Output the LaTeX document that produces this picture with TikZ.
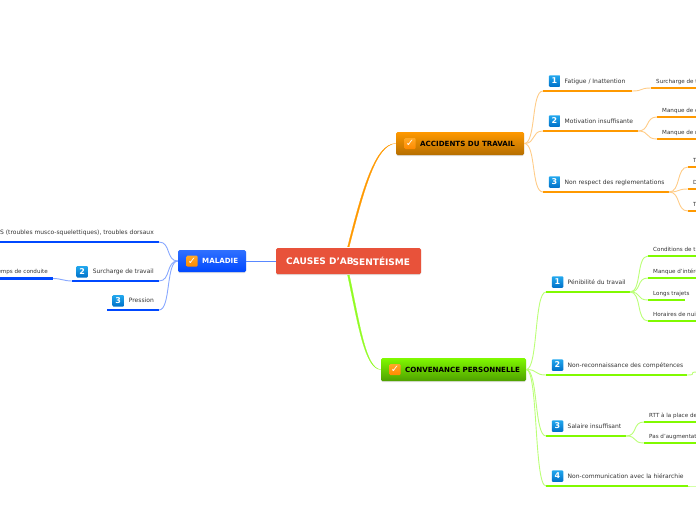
\documentclass[tikz,border=0pt]{standalone}
\usepackage{fontspec}
\setmainfont{DejaVu Sans}
\usetikzlibrary{calc,shadows}
\definecolor{Brick}{HTML}{E8523A}
\definecolor{Amber}{HTML}{FF9900}
\definecolor{AmberDark}{HTML}{B56E00}
\definecolor{AmberPale}{HTML}{FFCC88}
\definecolor{Royal}{HTML}{0048FF}
\definecolor{RoyalTop}{HTML}{2F70FF}
\definecolor{RoyalPale}{HTML}{88A8FF}
\definecolor{Lime}{HTML}{80FA00}
\definecolor{LimeDark}{HTML}{4FA000}
\definecolor{LimePale}{HTML}{BBFF77}
\definecolor{Ink}{HTML}{333333}
\definecolor{BadgeTop}{HTML}{22A8EE}
\definecolor{BadgeLow}{HTML}{0070C8}
\tikzset{
  mainbox/.style={rounded corners=1.5pt,inner sep=0pt,drop shadow={opacity=.25,shadow xshift=0pt,shadow yshift=-1pt}},
  tickbadge/.style={rounded corners=1pt,minimum size=11pt,inner sep=0pt,top color=Amber!85!white,bottom color=Amber!90!red,
    text=white,font=\fontsize{10}{10}\selectfont\bfseries},
  numbadge/.style={rounded corners=1pt,minimum size=11.5pt,inner sep=0pt,top color=BadgeTop,bottom color=BadgeLow,
    text=white,font=\fontsize{8}{8}\selectfont\bfseries},
  rowtext/.style={inner sep=0pt,text height=4.6pt,text depth=1.2pt,text=Ink,font=\fontsize{6}{7}\selectfont},
  subtext/.style={rowtext,font=\fontsize{5.6}{7}\selectfont},
  headtext/.style={inner sep=0pt,text height=5.2pt,text depth=0pt,font=\fontsize{7.1}{8}\selectfont\bfseries},
  titletext/.style={inner sep=0pt,text height=6.6pt,text depth=0pt,text=white,font=\fontsize{9}{10}\selectfont\bfseries},
  linkr/.style={out=0,in=180,out distance=12pt,in distance=12pt},
  linkl/.style={out=180,in=0,out distance=12pt,in distance=12pt},
  branch/.style={line width=.9pt},
}
% numbered row going right
\newcommand{\toprow}[7]{%
  \coordinate (#1-l) at (#3,#5);
  \coordinate (#1-r) at (#4,#5);
  \draw[#7,line width=2.5pt] (#1-l) -- (#1-r);
  \node[numbadge] (#1-badge) at (#3+11.5,#5-10) {#2};
  \node[rowtext,anchor=west] (#1-text) at (#3+21.5,#5-9.2) {#6};
}
% numbered row going left
\newcommand{\leftrow}[7]{%
  \coordinate (#1-l) at (#3,#5);
  \coordinate (#1-r) at (#4,#5);
  \draw[#7,line width=2.5pt] (#1-l) -- (#1-r);
  \node[rowtext,anchor=east] (#1-text) at (#4-5,#5-9.2) {#6};
  \node[numbadge,anchor=east] (#1-badge) at (#1-text.west) [xshift=-4.5pt] {#2};
}
% plain row, cut by the page
\newcommand{\subrow}[6]{%
  \coordinate (#1-l) at (#2,#4);
  \coordinate (#1-r) at (#3,#4);
  \draw[#6,line width=2.5pt] (#1-l) -- (#1-r);
  \node[subtext,anchor=west] (#1-text) at (#2+5,#4-6.3) {#5};
}
\begin{document}
\begin{tikzpicture}[x=1pt,y=-1pt]
  \useasboundingbox (0,0) rectangle (696,520);
  \clip (0,0) rectangle (696,520);

  % main nodes
  \node[mainbox,fill=Brick,minimum width=145pt,minimum height=26pt] (main) at (348.5,261) {};
  \node[titletext,anchor=west] (mainA) at (286,261) {CAUSES D’AB};
  \node[titletext,anchor=west] (mainB) at (352.5,262) {SENTÉISME};

  \node[mainbox,top color=RoyalTop,bottom color=Royal,minimum width=68pt,minimum height=22pt] (mal) at (212,261) {};
  \node[tickbadge] (malTick) at (192,261) {✓};
  \node[headtext,text=white,anchor=west] (malText) at (202,261) {MALADIE};

  \node[mainbox,top color=Amber,bottom color=AmberDark,minimum width=128pt,minimum height=23pt] (acc) at (460,143.5) {};
  \node[tickbadge] (accTick) at (410,143.5) {✓};
  \node[headtext,anchor=west] (accText) at (420,143.5) {ACCIDENTS DU TRAVAIL};

  \node[mainbox,top color=Lime,bottom color=LimeDark,minimum width=145pt,minimum height=23pt] (con) at (453.5,369.5) {};
  \node[tickbadge] (conTick) at (395,369.5) {✓};
  \node[headtext,anchor=west] (conText) at (405,369.5) {CONVENANCE PERSONNELLE};

  % links from the centre
  \draw[Royal!65!white,line width=.8pt] (main.west) -- (mal.east);
  \draw[Amber,line width=.2pt,fill=Amber] ($(main.north)+(-.9,-1)$) .. controls (362,190) and (375,143.5) .. (acc.west)
    .. controls (376,144) and (364,190) .. ($(main.north)+(.7,-1)$) -- cycle;
  \draw[Lime!70!LimePale,line width=.2pt,fill=Lime!70!LimePale] ($(main.south)+(-.9,1)$) .. controls (358,325) and (365,369.5) .. (con.west)
    .. controls (366,369) and (360,325) .. ($(main.south)+(.9,1)$) -- cycle;

  % maladie
  \coordinate (m1-l) at (0,242);
  \coordinate (m1-r) at (159,242);
  \draw[Royal,line width=2.5pt] (m1-l) -- (m1-r);
  \node[rowtext,anchor=east] (m1-text) at (154,232.8) {S (troubles musco-squelettiques), troubles dorsaux};
  \leftrow{m2}{2}{72}{159}{281}{Surcharge de travail}{Royal}
  \leftrow{m3}{3}{107}{159}{310}{Pression}{Royal}
  \coordinate (m2a-r) at (53,278.5);
  \coordinate (m2a-l) at (0,278.5);
  \draw[Royal,line width=2.5pt] (m2a-l) -- (m2a-r);
  \node[subtext,anchor=east] (m2a-text) at (48,271.7) {emps de conduite};
  \foreach \r in {m1,m2,m3}{
    \draw[RoyalPale,branch] (mal.west) to[linkl] (\r-r);
  }
  \draw[RoyalPale,branch] (m2-l) to[out=180,in=0,out distance=8pt,in distance=8pt] (m2a-r);

  % accidents
  \toprow{a1}{1}{543}{632}{91}{Fatigue / Inattention}{Amber}
  \toprow{a2}{2}{543}{638}{131}{Motivation insuffisante}{Amber}
  \toprow{a3}{3}{543}{669}{192}{Non respect des reglementations}{Amber}
  \subrow{a1a}{651}{700}{88}{Surcharge de t}{Amber}
  \subrow{a2a}{657}{700}{117}{Manque de c}{Amber}
  \subrow{a2b}{657}{700}{139}{Manque de r}{Amber}
  \subrow{a3a}{688}{700}{167}{T}{Amber}
  \subrow{a3b}{688}{700}{189}{D}{Amber}
  \subrow{a3c}{688}{700}{211}{T}{Amber}
  \foreach \r in {a1,a2,a3}{
    \draw[AmberPale,branch] (acc.east) to[linkr] (\r-l);
  }
  \foreach \a/\b in {a1/a1a,a2/a2a,a2/a2b,a3/a3a,a3/a3b,a3/a3c}{
    \draw[AmberPale,branch] (\a-r) to[linkr] (\b-l);
  }

  % convenance
  \toprow{c1}{1}{546}{630}{292}{Pénibilité du travail}{Lime}
  \toprow{c2}{2}{546}{687}{375}{Non-reconnaissance des compétences}{Lime}
  \toprow{c3}{3}{546}{626}{436}{Salaire insuffisant}{Lime}
  \toprow{c4}{4}{546}{688}{486}{Non-communication avec la hiérarchie}{Lime}
  \subrow{c1a}{648}{700}{256}{Conditions de tr}{Lime}
  \subrow{c1b}{648}{700}{278}{Manque d'intérê}{Lime}
  \subrow{c1c}{648}{685}{300}{Longs trajets}{Lime}
  \subrow{c1d}{648}{700}{321}{Horaires de nuit}{Lime}
  \subrow{c3a}{644}{700}{422}{RTT à la place de}{Lime}
  \subrow{c3b}{644}{700}{443}{Pas d'augmentati}{Lime}
  \coordinate (c2end) at (698,372);
  \coordinate (c4end) at (698,486);
  \foreach \r in {c1,c2,c3,c4}{
    \draw[LimePale,branch] (con.east) to[linkr] (\r-l);
  }
  \foreach \a/\b in {c1/c1a,c1/c1b,c1/c1c,c1/c1d,c3/c3a,c3/c3b}{
    \draw[LimePale,branch] (\a-r) to[linkr] (\b-l);
  }
  \draw[LimePale,branch] (c2-r) to[linkr] (c2end);
  \draw[LimePale,branch] (c4-r) to[linkr] (c4end);
\end{tikzpicture}
\end{document}
